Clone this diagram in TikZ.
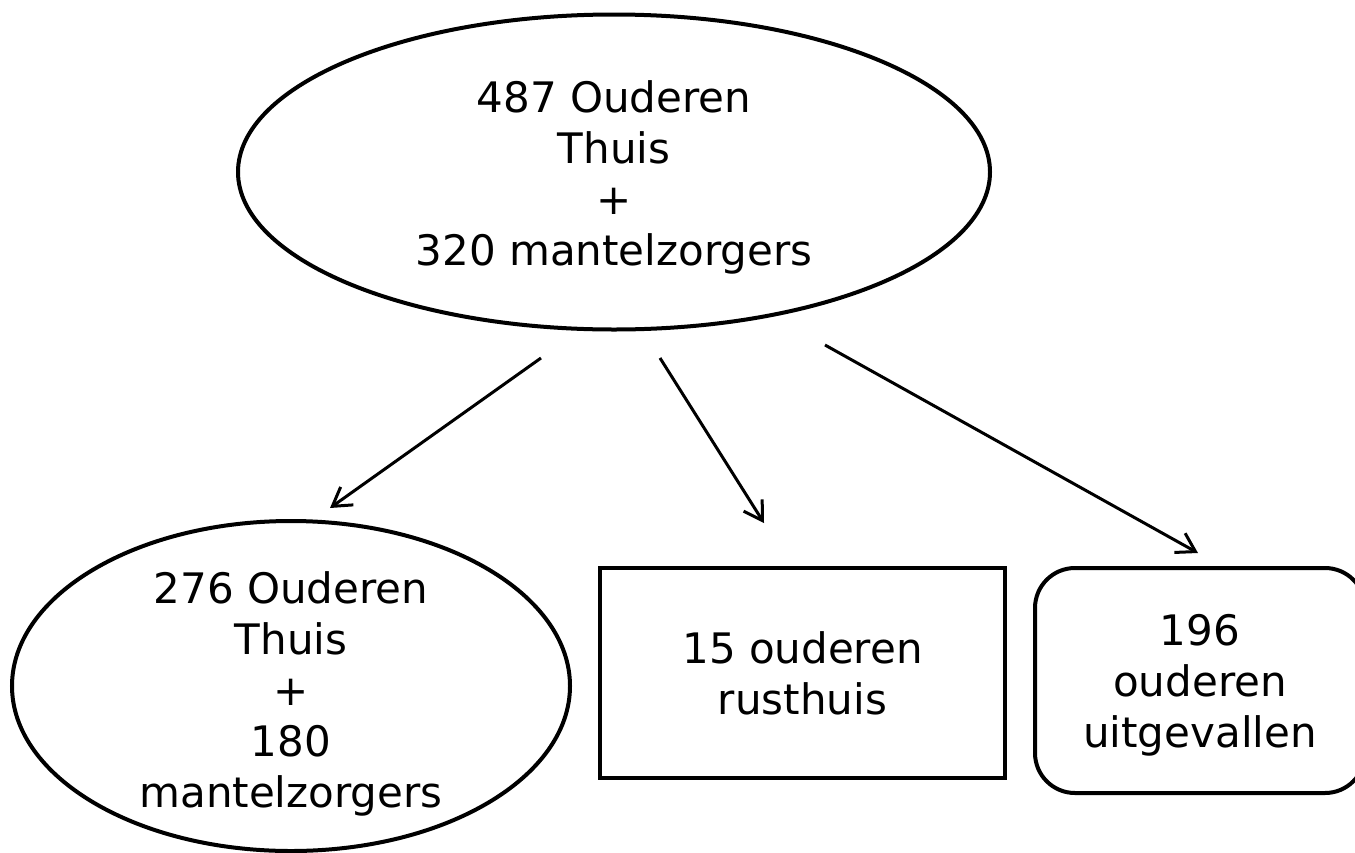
\documentclass[tikz,border=0pt]{standalone}
\usepackage{fontspec}
\setmainfont{DejaVu Sans}
\usetikzlibrary{shapes.geometric,arrows.meta}
\newcommand{\liftup}[1]{\rule{0pt}{#1}}
\begin{document}
\begin{tikzpicture}[x=1pt,y=-1pt,
  every node/.style={font=\fontsize{42}{51}\selectfont, align=center, inner sep=0pt},
  ovalbox/.style={ellipse, draw, line width=4pt},
  rectbox/.style={rectangle, draw, line width=4pt},
  roundbox/.style={rectangle, rounded corners=40pt, draw, line width=4pt},
  flow/.style={line width=3pt, -{Straight Barb[length=18pt,width=22pt,line width=3pt]}}]
\useasboundingbox (0,0) rectangle (1355,852);
\node[ovalbox, minimum width=752pt, minimum height=315pt] (top) at (614,172)
  {\liftup{42pt}487 Ouderen\\Thuis\\+\\320 mantelzorgers};
\node[ovalbox, inner sep=-25pt, minimum width=558pt, minimum height=330pt] (thuis) at (291,686)
  {\liftup{48pt}276 Ouderen\\Thuis\\+\\180\\mantelzorgers};
\node[rectbox, minimum width=405pt, minimum height=210pt] (rust) at (802.5,673)
  {15 ouderen\\rusthuis};
\node[roundbox, minimum width=330pt, minimum height=225pt] (uit) at (1200,680.5)
  {\liftup{40pt}196\\ouderen\\uitgevallen};
\coordinate (s1) at (541,358);
\coordinate (e1) at (330,508);
\coordinate (s2) at (660,358);
\coordinate (e2) at (764,523);
\coordinate (s3) at (825,345);
\coordinate (e3) at (1198,553);
\draw[flow] (s1) -- (e1);
\draw[flow] (s2) -- (e2);
\draw[flow] (s3) -- (e3);
\end{tikzpicture}
\end{document}
